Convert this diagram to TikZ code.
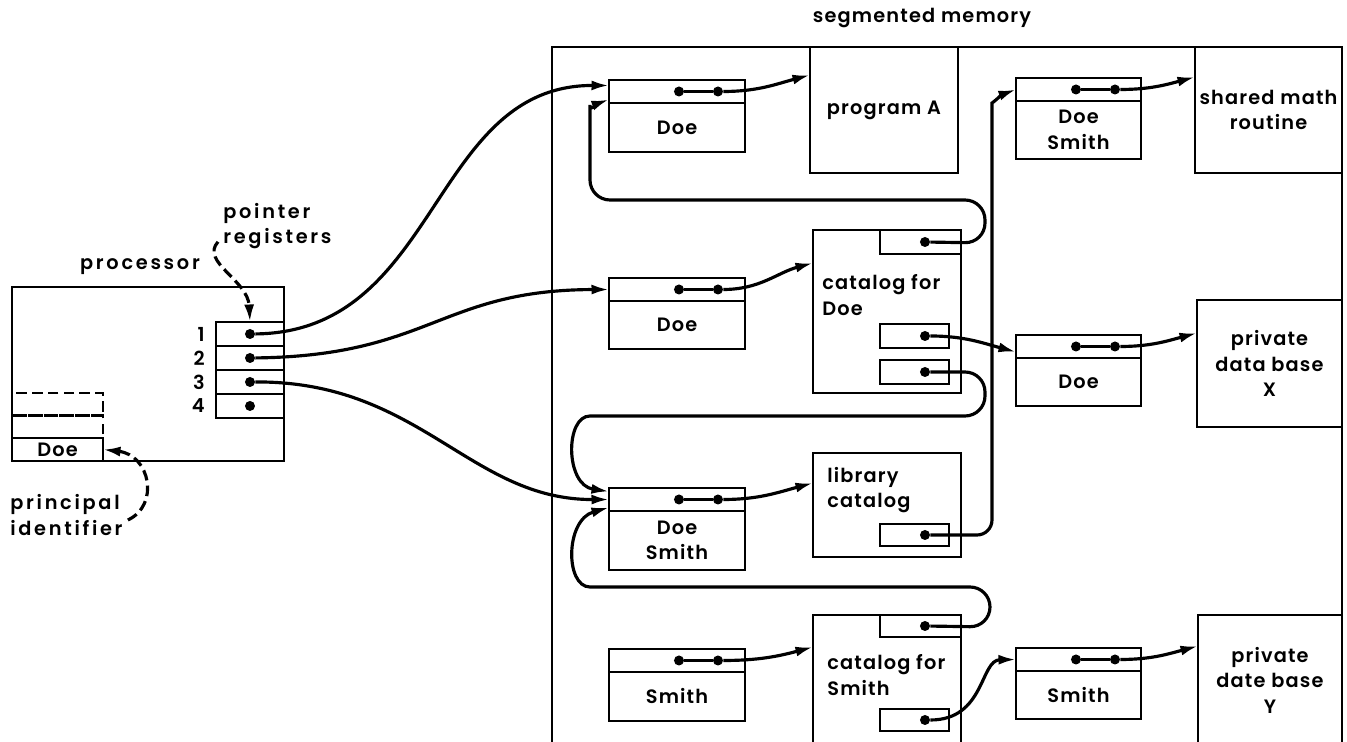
\documentclass[tikz,border=0pt]{standalone}
\usepackage{fontspec}
\setmainfont{Poppins}[LetterSpace=6,UprightFont={* SemiBold}]
\usetikzlibrary{arrows.meta,positioning}

\begin{document}
\begin{tikzpicture}[x=0.02cm,y=-0.02cm,font=\fontsize{11}{14.5}\selectfont]
  \tikzset{
    node distance=0pt,
    box/.style={draw,rectangle,line width=1.5pt,inner sep=0pt,outer sep=0pt,anchor=north west,align=center},
    reg/.style={box,minimum width=1.36cm,minimum height=0.48cm},
    sdl/.style={box,minimum width=2.72cm,minimum height=0.46cm},
    sdr/.style={box,minimum width=2.5cm,minimum height=0.46cm},
    seg/.style={box,minimum width=2.96cm},
    dot/.style={circle,fill,inner sep=0pt,minimum size=2mm},
    ptr/.style={line width=1.8pt,-{Latex[length=3.5mm,width=2mm]}},
    txt/.style={inner sep=0pt,align=left},
    lbl/.style={txt,font=\fontsize{11}{14.5}\selectfont\addfontfeature{LetterSpace=14}},
    dsh/.style={dash pattern=on 6pt off 3pt}
  }

  \useasboundingbox (0,0) rectangle (1347,742);

  % processor
  \node[box,minimum width=5.44cm,minimum height=3.48cm] (proc) at (12,287) {};
  \node[lbl] (plbl) at (140,267) {processor};
  \node[lbl,anchor=west] (rlbl) at (223,226) {pointer\\registers};

  \node[reg] (r1) at (216,322) {};
  \node[reg,below=of r1] (r2) {};
  \node[reg,below=of r2] (r3) {};
  \node[reg,below=of r3] (r4) {};
  \node[txt,left=0.22cm of r1] (n1) {1};
  \node[txt,left=0.22cm of r2] (n2) {2};
  \node[txt,left=0.22cm of r3] (n3) {3};
  \node[txt,left=0.22cm of r4] (n4) {4};
  \node[dot] (r1d) at (r1) {};
  \node[dot] (r2d) at (r2) {};
  \node[dot] (r3d) at (r3) {};
  \node[dot] (r4d) at (r4) {};

  \node[box,minimum width=1.82cm,minimum height=0.46cm] (pid) at (12,438) {Doe};
  \node[box,dsh,minimum width=1.82cm,minimum height=0.45cm,above=of pid] (stk2) {};
  \node[box,dsh,minimum width=1.82cm,minimum height=0.45cm,above=of stk2] (stk1) {};
  \node[lbl,anchor=west] (ilbl) at (10,515) {principal\\identifier};

  \draw[ptr,dsh] ([xshift=-0.1cm,yshift=0.15cm]rlbl.south west) .. controls (200,262) and (248,280) .. (r1.north);
  \draw[ptr,dsh] ([xshift=0.1cm,yshift=-0.1cm]ilbl.east) .. controls (160,505) and (150,455) .. (pid.east);

  % segmented memory
  \node[box,minimum width=15.8cm,minimum height=14.4cm] (mem) at (552,47) {};
  \node[txt] (mlbl) at (922,18) {segmented memory};

  \node[seg,minimum height=2.52cm] (progA) at (810,47) {program A};
  \node[box,minimum width=2.94cm,minimum height=2.52cm] (math) at (1195,47) {shared math\\routine};
  \node[box,minimum width=2.9cm,minimum height=2.54cm] (privX) at (1197,300) {private\\data base\\X};
  \node[box,minimum width=2.88cm,minimum height=2.6cm] (privY) at (1198,615) {private\\date base\\Y};

  % segment descriptors
  \node[sdl] (sd1a) at (609,80) {};
  \node[sdl,below=of sd1a,minimum height=0.98cm] (sd1b) {Doe};
  \node[sdl] (sd2a) at (609,278) {};
  \node[sdl,below=of sd2a,minimum height=0.96cm] (sd2b) {Doe};
  \node[sdl] (sd3a) at (609,488) {};
  \node[sdl,below=of sd3a,minimum height=1.18cm] (sd3b) {Doe\\Smith};
  \node[sdl] (sd6a) at (609,649) {};
  \node[sdl,below=of sd6a,minimum height=0.98cm] (sd6b) {Smith};
  \node[sdr] (sd5a) at (1016,78) {};
  \node[sdr,below=of sd5a,minimum height=1.16cm] (sd5b) {Doe\\Smith};
  \node[sdr] (sd4a) at (1016,335) {};
  \node[sdr,below=of sd4a,minimum height=0.96cm] (sd4b) {Doe};
  \node[sdr] (sd7a) at (1016,648) {};
  \node[sdr,below=of sd7a,minimum height=0.96cm] (sd7b) {Smith};

  \node[dot] (sd1p) at ([xshift=1.4cm]sd1a.west) {};
  \node[dot] (sd1q) at ([xshift=2.18cm]sd1a.west) {};
  \node[dot] (sd2p) at ([xshift=1.4cm]sd2a.west) {};
  \node[dot] (sd2q) at ([xshift=2.18cm]sd2a.west) {};
  \node[dot] (sd3p) at ([xshift=1.4cm]sd3a.west) {};
  \node[dot] (sd3q) at ([xshift=2.18cm]sd3a.west) {};
  \node[dot] (sd6p) at ([xshift=1.4cm]sd6a.west) {};
  \node[dot] (sd6q) at ([xshift=2.18cm]sd6a.west) {};
  \node[dot] (sd5p) at ([xshift=1.2cm]sd5a.west) {};
  \node[dot] (sd5q) at ([xshift=1.98cm]sd5a.west) {};
  \node[dot] (sd4p) at ([xshift=1.2cm]sd4a.west) {};
  \node[dot] (sd4q) at ([xshift=1.98cm]sd4a.west) {};
  \node[dot] (sd7p) at ([xshift=1.2cm]sd7a.west) {};
  \node[dot] (sd7q) at ([xshift=1.98cm]sd7a.west) {};
  \draw[line width=1.8pt] (sd1p) -- (sd1q) (sd2p) -- (sd2q) (sd3p) -- (sd3q) (sd6p) -- (sd6q)
                          (sd5p) -- (sd5q) (sd4p) -- (sd4q) (sd7p) -- (sd7q);

  % catalogs
  \node[seg,minimum height=3.26cm] (catD) at (813,230) {};
  \node[txt,anchor=west] (catDt) at (822,295) {catalog for\\Doe};
  \node[box,minimum width=1.62cm,minimum height=0.48cm,anchor=north east] (catDa) at (catD.north east) {};
  \node[box,minimum width=1.38cm,minimum height=0.48cm] (catDb) at (880,324) {};
  \node[box,minimum width=1.38cm,minimum height=0.48cm] (catDc) at (880,360) {};
  \node[dot] (catDad) at ([xshift=-0.72cm]catDa.east) {};
  \node[dot] (catDbd) at ([xshift=-0.48cm]catDb.east) {};
  \node[dot] (catDcd) at ([xshift=-0.48cm]catDc.east) {};

  \node[seg,minimum height=2.08cm] (libC) at (813,453) {};
  \node[txt,anchor=west] (libCt) at (827,490) {library\\catalog};
  \node[box,minimum width=1.38cm,minimum height=0.44cm] (libCa) at (880,524) {};
  \node[dot] (libCd) at ([xshift=-0.48cm]libCa.east) {};

  \node[seg,minimum height=3cm] (catS) at (813,615) {};
  \node[txt,anchor=west] (catSt) at (827,675) {catalog for\\Smith};
  \node[box,minimum width=1.62cm,minimum height=0.44cm,anchor=north east] (catSa) at (catS.north east) {};
  \node[box,minimum width=1.38cm,minimum height=0.44cm] (catSb) at (880,709) {};
  \node[dot] (catSad) at ([xshift=-0.72cm]catSa.east) {};
  \node[dot] (catSbd) at ([xshift=-0.48cm]catSb.east) {};

  % pointers from the registers
  \draw[ptr] (r1d) .. controls (440,332) and (430,85) .. ([yshift=0.12cm]sd1a.west);
  \draw[ptr] (r2d) .. controls (430,356) and (440,290) .. (sd2a.west);
  \draw[ptr] (r3d) .. controls (420,381) and (470,500) .. (sd3a.west);

  % descriptors to segments
  \draw[ptr] (sd1q) to[out=0,in=195] ([yshift=-0.56cm]progA.north west);
  \draw[ptr] (sd2q) to[out=0,in=195] ([yshift=-0.66cm]catD.north west);
  \draw[ptr] (sd3q) to[out=0,in=195] ([yshift=-0.6cm]libC.north west);
  \draw[ptr] (sd6q) to[out=0,in=195] ([yshift=-0.64cm]catS.north west);
  \draw[ptr] (sd5q) to[out=0,in=195] ([yshift=-0.6cm]math.north west);
  \draw[ptr] (sd4q) to[out=0,in=195] ([yshift=-0.66cm]privX.north west);
  \draw[ptr] (sd7q) to[out=0,in=195] ([yshift=-0.62cm]privY.north west);

  % catalog entries
  \draw[ptr,rounded corners=0.4cm] (catDad) -- (985,243) -- (985,200) -- (590,200) -- (590,125)
        to[out=90,in=200] ([yshift=-0.16cm]sd1a.west);
  \draw[ptr] (catDbd) to[out=0,in=165] ([yshift=-0.11cm]sd4a.west);
  \draw[ptr,rounded corners=0.4cm] (catDcd) -- (985,372) -- (985,416) -- (610,416)
        .. controls (565,416) and (565,485) .. ([yshift=0.16cm]sd3a.west);
  \draw[ptr,rounded corners=0.3cm] (libCd) -- (992,535) -- (992,118) to[out=90,in=200] (sd5a.west);
  \draw[ptr,rounded corners=0.4cm] (catSad) -- (990,627) -- (990,587) -- (610,587)
        .. controls (565,587) and (565,520) .. ([yshift=-0.16cm]sd3a.west);
  \draw[ptr] (catSbd) .. controls (985,720) and (980,660) .. (sd7a.west);
\end{tikzpicture}
\end{document}
